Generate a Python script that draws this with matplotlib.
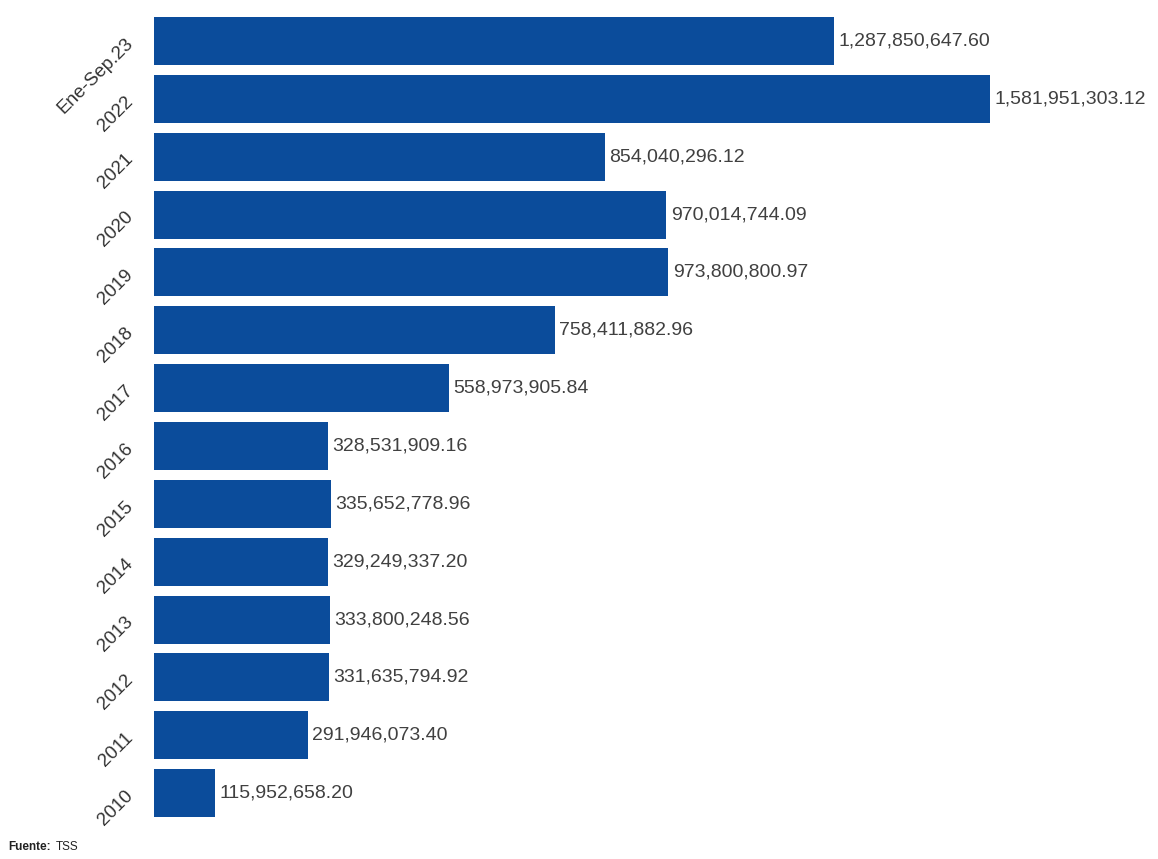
import numpy as np
from matplotlib import pyplot as plt

plt.rcParams['font.family'] = ['Liberation Sans', 'DejaVu Sans']

# datos (de abajo hacia arriba)
periodos = ['2010', '2011', '2012', '2013', '2014', '2015', '2016', '2017',
            '2018', '2019', '2020', '2021', '2022', 'Ene-Sep.23']
montos = [115952658.20, 291946073.40, 331635794.92, 333800248.56,
          329249337.20, 335652778.96, 328531909.16, 558973905.84,
          758411882.96, 973800800.97, 970014744.09, 854040296.12,
          1581951303.12, 1287850647.60]

azul = '#0B4C9B'

fig = plt.figure(figsize=(11.58, 8.59), dpi=100)
ax = fig.add_axes([0.133, 0.043, 0.86, 0.943])

y = np.arange(len(periodos))
ax.barh(y, montos, height=0.83, color=azul)

for yi, v in zip(y, montos):
    ax.text(v + 8e6, yi, f'{v:,.2f}', va='center', ha='left',
            fontsize=14, color='#404040')

ax.set_yticks(y)
ax.set_yticklabels(periodos, rotation=45, ha='right', va='center',
                   rotation_mode='anchor', fontsize=13.5, color='#333333')
ax.tick_params(axis='y', length=0, pad=17)
ax.set_xticks([])
ax.set_ylim(-0.5, len(periodos) - 0.5)
ax.set_xlim(0, 1.885e9)
for s in ax.spines.values():
    s.set_visible(False)

fig.text(0.007, 0.01, 'Fuente:', fontsize=8.5, fontweight='bold', color='#222222')
fig.text(0.048, 0.01, 'TSS', fontsize=8.5, color='#222222')

fig.savefig('out.png', dpi=100)
